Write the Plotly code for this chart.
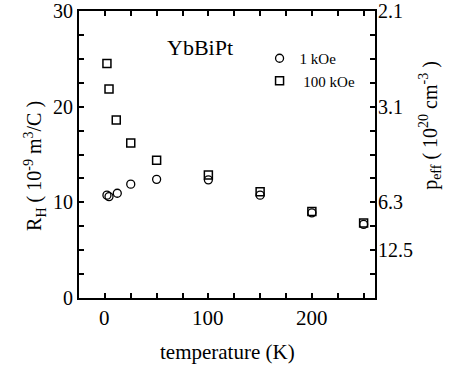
import plotly.graph_objects as go

temp_1k = [2, 4, 12, 25, 50, 100, 150, 200, 250]
rh_1k = [10.75, 10.6, 10.95, 11.9, 12.4, 12.35, 10.75, 8.9, 7.7]
temp_100k = [2, 4, 11, 25, 50, 100, 150, 200, 250]
rh_100k = [24.5, 21.85, 18.6, 16.2, 14.4, 12.85, 11.1, 9.05, 7.85]

x_labels = [0, 100, 200]
y_labels = [0, 10, 20, 30]
right_tickvals = [30, 20, 10, 5]
right_ticktext = ["2.1", "3.1", "6.3", "12.5"]

ff = "Times New Roman"

tk = dict(ticks="inside", ticklen=5, tickwidth=1.5, tickcolor="black")
line = dict(showline=True, linewidth=2, linecolor="black")
common = dict(showgrid=False, zeroline=False, showticklabels=False)

fig = go.Figure()
fig.add_trace(go.Scatter(x=temp_1k, y=rh_1k, mode="markers", name="1 kOe",
                         marker=dict(symbol="circle-open", size=8, color="black",
                                     line=dict(width=1.3, color="black"))))
fig.add_trace(go.Scatter(x=temp_100k, y=rh_100k, mode="markers", name=" 100 kOe",
                         marker=dict(symbol="square-open", size=8, color="black",
                                     line=dict(width=1.5, color="black"))))

annotations = [
    dict(text="YbBiPt", x=92, y=26.2, xref="x", yref="y",
         showarrow=False, font=dict(size=22, family=ff)),
    dict(text="temperature (K)", x=0.5, y=-0.188, xref="paper", yref="paper",
         xanchor="center", yanchor="middle", showarrow=False,
         font=dict(size=21, family=ff)),
    dict(text="R<sub>H</sub> ( 10<sup>-9</sup> m<sup>3</sup>/C )",
         x=-0.149, y=0.46, xref="paper", yref="paper", textangle=-90,
         xanchor="center", yanchor="middle", showarrow=False,
         font=dict(size=20, family=ff)),
    dict(text="p<sub>eff</sub> ( 10<sup>20</sup> cm<sup>-3</sup> )",
         x=1.186, y=0.6, xref="paper", yref="paper", textangle=-90,
         xanchor="center", yanchor="middle", showarrow=False,
         font=dict(size=20, family=ff)),
]
for v in x_labels:
    annotations.append(dict(text=str(v), x=v, y=0, xref="x", yref="paper",
                            xanchor="center", yanchor="top", yshift=-6,
                            showarrow=False, font=dict(size=21, family=ff)))
for v in y_labels:
    annotations.append(dict(text=str(v), x=0, y=v, xref="paper", yref="y",
                            xanchor="right", yanchor="middle", xshift=-4,
                            showarrow=False, font=dict(size=20, family=ff)))
for v, t in zip(right_tickvals, right_ticktext):
    annotations.append(dict(text=t, x=1, y=v, xref="paper", yref="y",
                            xanchor="left", yanchor="middle", xshift=1,
                            showarrow=False, font=dict(size=20, family=ff)))

fig.update_layout(
    template="none",
    width=450, height=368,
    margin=dict(l=79, r=75, t=11, b=70),
    paper_bgcolor="white", plot_bgcolor="white",
    font=dict(family=ff, size=20, color="black"),
    showlegend=True,
    legend=dict(x=0.61, y=0.892, xanchor="left", yanchor="top",
                font=dict(size=15, family=ff), bgcolor="rgba(0,0,0,0)",
                tracegroupgap=0),
    xaxis=dict(range=[-25, 261], tickmode="linear", tick0=0, dtick=25, **tk,
               **line, mirror="allticks", **common),
    yaxis=dict(range=[0, 30], tickmode="linear", tick0=0, dtick=2.5, **tk,
               **line, mirror="allticks", **common),
    annotations=annotations,
)

fig.write_html("out.html")
